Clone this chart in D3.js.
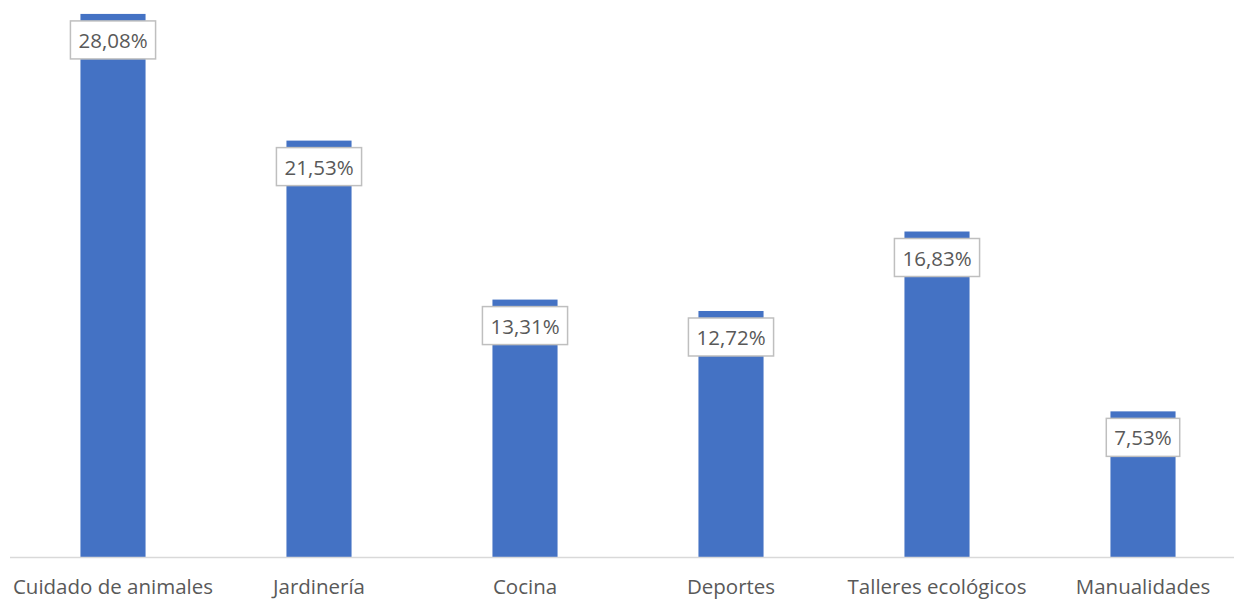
<!DOCTYPE html>
<html>
<head>
<meta charset="utf-8">
<script src="https://cdn.jsdelivr.net/npm/d3@7"></script>
<style>
    body { margin: 0; background: #fff; }
    text { font-family: "Open Sans", "Liberation Sans", sans-serif; }
</style>
</head>
<body>
<div id="chart"></div>
<script>
// data
var categories = ["Cuidado de animales", "Jardinería", "Cocina", "Deportes", "Talleres ecológicos", "Manualidades"];
var values = [28.08, 21.53, 13.31, 12.72, 16.83, 7.53];
var labels = ["28,08%", "21,53%", "13,31%", "12,72%", "16,83%", "7,53%"];

var width = 1234, height = 599;
var baseY = 557;

var svg = d3.select("#chart").append("svg")
    .attr("width", width)
    .attr("height", height);

var x = d3.scaleBand()
    .domain(categories)
    .range([10, 1246])
    .paddingInner(0.684)
    .paddingOuter(0.342);

var y = d3.scaleLinear()
    .domain([0, 28.8])
    .range([baseY, 0]);

var data = categories.map(function (c, i) {
    return { cat: c, value: values[i], label: labels[i] };
});

// bars
svg.selectAll(".bar")
    .data(data)
    .enter()
    .append("rect")
    .attr("class", "bar")
    .attr("x", function (d) { return x(d.cat) })
    .attr("y", function (d) { return y(d.value) })
    .attr("width", x.bandwidth())
    .attr("height", function (d) { return baseY - y(d.value) })
    .style("fill", "#4472c4");

// axis line
svg.append("line")
    .attr("x1", 10).attr("x2", width)
    .attr("y1", baseY + 0.5).attr("y2", baseY + 0.5)
    .style("stroke", "#d9d9d9")
    .style("stroke-width", 1.5);

// category labels
svg.selectAll(".cat")
    .data(data)
    .enter()
    .append("text")
    .attr("class", "cat")
    .attr("x", function (d) { return x(d.cat) + x.bandwidth() / 2 })
    .attr("y", 594)
    .attr("text-anchor", "middle")
    .style("font-size", "20.5px")
    .style("fill", "#595959")
    .text(function (d) { return d.cat });

// value labels in boxes
var lab = svg.selectAll(".lab")
    .data(data)
    .enter()
    .append("g")
    .attr("class", "lab")
    .attr("transform", function (d) {
        return "translate(" + (x(d.cat) + x.bandwidth() / 2) + "," + (y(d.value) + 7) + ")";
    });

lab.append("text")
    .attr("y", 27)
    .attr("text-anchor", "middle")
    .style("font-size", "20.5px")
    .style("fill", "#595959")
    .text(function (d) { return d.label });

lab.insert("rect", "text")
    .each(function () {
        var t = d3.select(this.parentNode).select("text").node().getBBox();
        var w = t.width + 16;
        d3.select(this)
            .attr("x", -w / 2)
            .attr("y", 0)
            .attr("width", w)
            .attr("height", 38);
    })
    .style("fill", "#fff")
    .style("stroke", "#bfbfbf")
    .style("stroke-width", 1.5);
</script>
</body>
</html>
